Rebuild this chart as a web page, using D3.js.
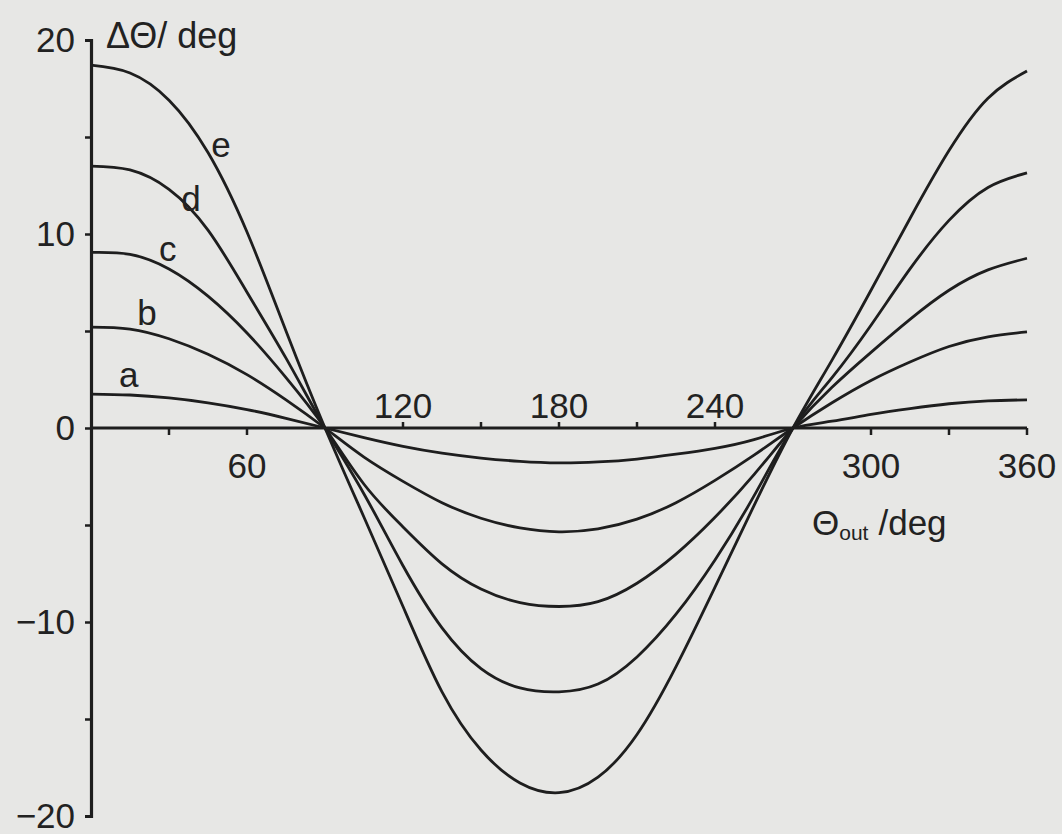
<!DOCTYPE html>
<html>
<head>
<meta charset="utf-8">
<script src="https://cdn.jsdelivr.net/npm/d3@7"></script>
<style>
	body { margin: 0; background: #e7e7e5; }
	svg text { font-family: "Liberation Sans", Arial, sans-serif; fill: #222; }
</style>
</head>
<body>
<svg id="chart" width="1062" height="834"></svg>
<script>
let theta = [0, 15, 30, 45, 60, 75, 90, 105, 120, 135, 150, 165, 180,
	195, 210, 225, 240, 255, 270, 285, 300, 315, 330, 345, 360];

let curve_a = [1.75, 1.7, 1.55, 1.3, 0.95, 0.5, 0, -0.5, -0.95, -1.3, -1.55, -1.72, -1.8,
	-1.75, -1.6, -1.35, -1.05, -0.6, 0, 0.35, 0.7, 1.0, 1.25, 1.4, 1.45];
let curve_b = [5.2, 5.1, 4.6, 3.8, 2.75, 1.45, 0, -1.5, -2.75, -3.85, -4.65, -5.15, -5.35,
	-5.2, -4.7, -3.85, -2.7, -1.4, 0, 1.3, 2.45, 3.4, 4.2, 4.7, 4.95];
let curve_c = [9.05, 8.95, 8.2, 6.8, 4.9, 2.6, 0, -2.9, -5.1, -7.0, -8.3, -9.0, -9.2,
	-8.95, -8.0, -6.5, -4.6, -2.4, 0, 2.1, 3.9, 5.6, 7.1, 8.15, 8.75];
let curve_d = [13.5, 13.3, 12.3, 10.2, 7.0, 3.6, 0, -3.4, -7.1, -10.3, -12.4, -13.4, -13.6,
	-13.2, -11.8, -9.6, -6.8, -3.5, 0, 2.6, 5.3, 8.2, 10.7, 12.4, 13.15];
let curve_e = [18.7, 18.3, 16.9, 14.2, 10.1, 5.0, 0, -4.6, -9.2, -13.6, -16.6, -18.3, -18.8,
	-18.0, -15.8, -12.3, -8.2, -4.0, 0, 3.5, 7.1, 10.8, 14.3, 17.0, 18.4];

let curve_names = ['a', 'b', 'c', 'd', 'e'];
// where each letter sits along its curve, and how far above it
let label_theta = [14.5, 21.5, 29.5, 38.5, 50];
let label_lift = [8, 8, 7, 1, 22];

let y_ticks = [-20, -15, -10, -5, 0, 5, 10, 15, 20];
let y_labels = [-20, -10, 0, 10, 20];
let x_ticks = [30, 60, 120, 150, 180, 210, 240, 300, 330, 360];
let x_labels = [60, 120, 180, 240, 300, 360];

let svg = d3.select('#chart'),
	ink = '#1e1e1e',
	fontSize = 35;

let x = d3.scaleLinear()
	.domain([0, 360])
	.range([91, 1027]);
let y = d3.scaleLinear()
	.domain([-20, 20])
	.range([816, 40]);

let series = [curve_a, curve_b, curve_c, curve_d, curve_e].map((vals, i) => ({
	name: curve_names[i],
	values: vals,
	points: theta.map((t, j) => [t, vals[j]])
}));

let line = d3.line()
	.x(d => x(d[0]))
	.y(d => y(d[1]))
	.curve(d3.curveNatural);

// curves
svg.selectAll('.curve')
	.data(series)
	.enter()
	.append('path')
	.attr('class', 'curve')
	.attr('d', d => line(d.points))
	.attr('fill', 'none')
	.attr('stroke', ink)
	.attr('stroke-width', 2.8);

// y axis
let y_axis = svg.append('g')
	.attr('transform', `translate(${x(0)}, 0)`)
	.call(d3.axisLeft(y)
		.tickValues(y_ticks)
		.tickSize(6)
		.tickPadding(10)
		.tickFormat(d => y_labels.includes(d) ? (d < 0 ? '\u2212' + Math.abs(d) : d) : ''));
y_axis.select('.domain')
	.attr('stroke', ink)
	.attr('stroke-width', 3.2);
y_axis.selectAll('.tick line')
	.attr('stroke', ink)
	.attr('stroke-width', 2.5);
y_axis.selectAll('.tick text')
	.style('font-size', `${fontSize}px`)
	.attr('dy', '0.33em');

// x axis along zero, ticks flip side where the labels sit above
svg.append('line')
	.attr('x1', x(0))
	.attr('x2', x(360))
	.attr('y1', y(0))
	.attr('y2', y(0))
	.attr('stroke', ink)
	.attr('stroke-width', 3.2);

let above = d => d > 90 && d < 270;

svg.selectAll('.x_tick')
	.data(x_ticks)
	.enter()
	.append('line')
	.attr('class', 'x_tick')
	.attr('x1', d => x(d))
	.attr('x2', d => x(d))
	.attr('y1', y(0))
	.attr('y2', d => above(d) ? y(0) - 6 : y(0) + 7)
	.attr('stroke', ink)
	.attr('stroke-width', 2.5);

svg.selectAll('.x_label')
	.data(x_labels)
	.enter()
	.append('text')
	.attr('class', 'x_label')
	.attr('x', d => x(d))
	.attr('y', d => above(d) ? y(0) - 10 : y(0) + 50)
	.attr('text-anchor', 'middle')
	.style('font-size', `${fontSize}px`)
	.text(d => d);

// curve letters, placed on their own curve
let interp = (vals, t) => {
	let j = Math.floor(t / 15),
		f = (t - theta[j]) / 15;
	return vals[j] + (vals[j + 1] - vals[j]) * f;
};

svg.selectAll('.curve_name')
	.data(series)
	.enter()
	.append('text')
	.attr('class', 'curve_name')
	.attr('x', (d, i) => x(label_theta[i]))
	.attr('y', (d, i) => y(interp(d.values, label_theta[i])) - label_lift[i])
	.attr('text-anchor', 'middle')
	.style('font-size', `${fontSize}px`)
	.text(d => d.name);

// axis titles
svg.append('text')
	.attr('x', 106)
	.attr('y', 48)
	.style('font-size', '36px')
	.text('\u0394\u0398/ deg');

let x_title = svg.append('text')
	.attr('x', 812)
	.attr('y', 535)
	.style('font-size', `${fontSize}px`);
x_title.append('tspan').text('\u0398');
x_title.append('tspan')
	.attr('dy', 5)
	.style('font-size', '21px')
	.text('out');
x_title.append('tspan')
	.attr('dy', -5)
	.attr('dx', 10)
	.text('/deg');
</script>
</body>
</html>
